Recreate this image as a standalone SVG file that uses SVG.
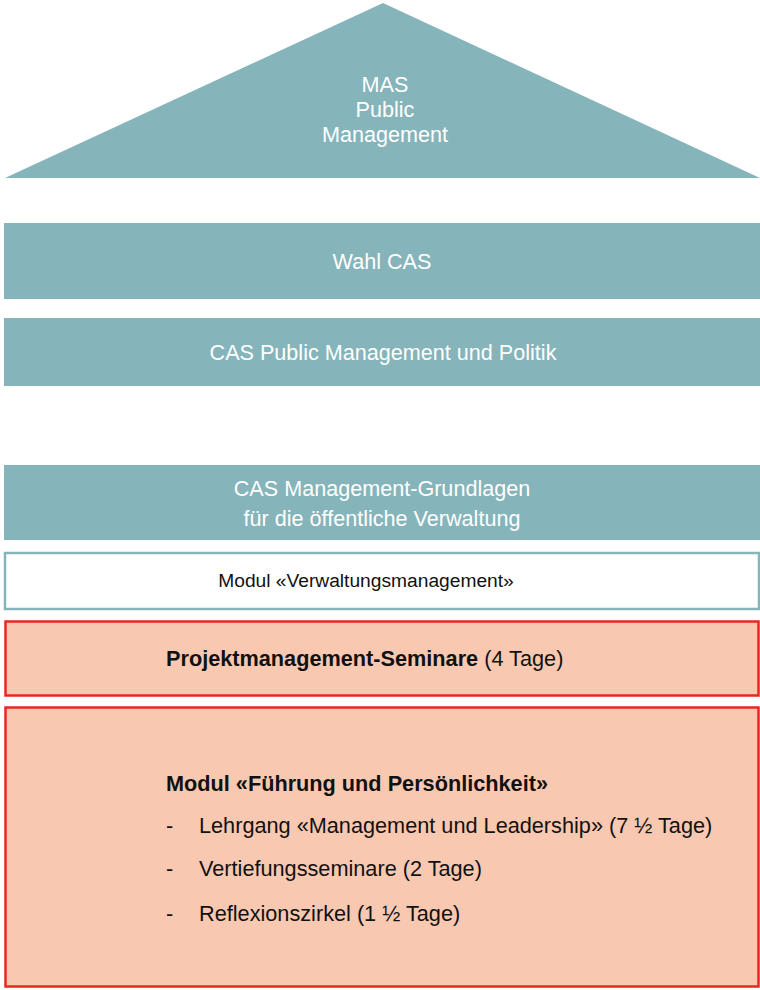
<svg xmlns="http://www.w3.org/2000/svg" width="760" height="990" viewBox="0 0 760 990">
<style>
.teal{fill:#85B4BA}
.wt{font-family:"Liberation Sans",Arial,sans-serif;font-size:21.6px;fill:#ffffff;text-anchor:middle}
.bk{font-family:"Liberation Sans",Arial,sans-serif;font-size:21.7px;fill:#111111}
.bd{font-weight:bold}
.red{fill:#F9C8B1;stroke:#E5291F;stroke-width:2.5}
</style>
<rect width="760" height="990" fill="#ffffff"/>
<g id="mas">
<polygon class="teal" points="383,3 760,178 5,178"/>
<text class="wt" x="385" y="92">MAS</text>
<text class="wt" x="385" y="117">Public</text>
<text class="wt" x="385" y="142">Management</text>
</g>
<g id="wahl">
<rect class="teal" x="4" y="223" width="756" height="76"/>
<text class="wt" x="382" y="269">Wahl CAS</text>
</g>
<g id="caspm">
<rect class="teal" x="4" y="318" width="756" height="68"/>
<text class="wt" x="383" y="360">CAS Public Management und Politik</text>
</g>
<g id="casmg">
<rect class="teal" x="4" y="465" width="756" height="75"/>
<text class="wt" x="382" y="496">CAS Management-Grundlagen</text>
<text class="wt" x="382" y="526">für die öffentliche Verwaltung</text>
</g>
<g id="verwaltung">
<rect x="5" y="553" width="754" height="56" fill="#ffffff" stroke="#85B4BA" stroke-width="2.5"/>
<text class="bk" x="366" y="587" style="font-size:19.2px" text-anchor="middle">Modul «Verwaltungsmanagement»</text>
</g>
<g id="projekt">
<rect class="red" x="5.5" y="621.5" width="753" height="74"/>
<text class="bk" x="166" y="666"><tspan class="bd">Projektmanagement-Seminare</tspan> (4 Tage)</text>
</g>
<g id="fuehrung">
<rect class="red" x="5.5" y="707.5" width="753" height="279"/>
<text class="bk bd" x="166" y="791">Modul «Führung und Persönlichkeit»</text>
<text class="bk" x="166" y="833">-</text>
<text class="bk" x="199" y="833">Lehrgang «Management und Leadership» (7 ½ Tage)</text>
<text class="bk" x="166" y="876">-</text>
<text class="bk" x="199" y="876">Vertiefungsseminare (2 Tage)</text>
<text class="bk" x="166" y="921">-</text>
<text class="bk" x="199" y="921">Reflexionszirkel (1 ½ Tage)</text>
</g>
<g id="connectors"></g>
</svg>
